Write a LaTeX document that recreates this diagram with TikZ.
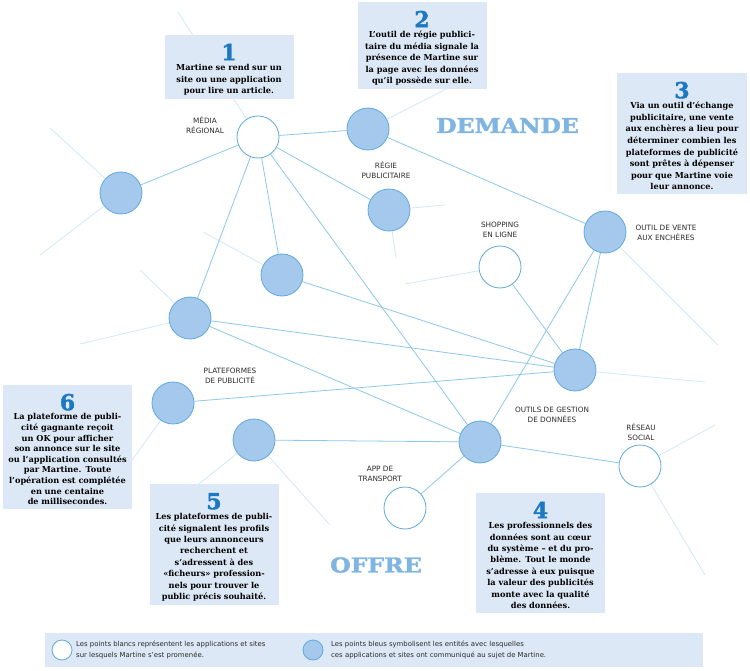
\documentclass[tikz,border=0pt]{standalone}
\usepackage{fontspec}
\setmainfont{DejaVu Serif}
\setsansfont{DejaVu Sans}
\newfontfamily\slabfont[FakeBold=1.6]{DejaVu Serif Bold}
\usetikzlibrary{backgrounds}
\definecolor{linkblue}{HTML}{8CC8EC}
\definecolor{dotblue}{HTML}{A5C9EC}
\definecolor{rimblue}{HTML}{5FA9DF}
\definecolor{boxblue}{HTML}{DCE8F5}
\definecolor{numblue}{HTML}{1B78C2}
\definecolor{wordblue}{HTML}{7FB5E0}
\definecolor{labelgrey}{HTML}{2B2B2B}
\newcommand\stepno[1]{\rule{0pt}{21pt}{\slabfont\fontsize{22}{22}\selectfont\color{numblue}#1}\\[-1pt]}

\tikzset{
  site/.style={circle, draw=rimblue, line width=.8pt, fill=white, minimum size=42pt, inner sep=0pt},
  entity/.style={site, fill=dotblue},
  link/.style={draw=linkblue, line width=.8pt},
  fade/.style={link, draw opacity=.4},
  tag/.style={font=\sffamily\fontsize{7.3}{10}\selectfont, text=labelgrey, align=center, inner sep=0pt},
  infobox/.style={fill=boxblue, anchor=north, text width=121pt, inner xsep=4pt, inner ysep=4pt, align=center},
  bigword/.style={font=\slabfont\fontsize{20.5}{20.5}\selectfont, text=wordblue, inner sep=0pt},
  keytext/.style={font=\sffamily\fontsize{6.9}{10.5}\selectfont, text=labelgrey, align=left, anchor=west, inner sep=0pt},
}

\begin{document}
\begin{tikzpicture}[x=1pt, y=-1pt]
\useasboundingbox (0,0) rectangle (750,671);
%% points
\node[site]   (media)     at (258,137) {};
\node[entity] (regieA)    at (368,129) {};
\node[entity] (westdot)   at (121,193) {};
\node[entity] (regieB)    at (389,210) {};
\node[entity] (middot)    at (282,275) {};
\node[entity] (platA)     at (190,318) {};
\node[site]   (shopping)  at (500,267) {};
\node[entity] (vente)     at (605,232) {};
\node[entity] (gestion)   at (575,370) {};
\node[entity] (platB)     at (173,403) {};
\node[entity] (platC)     at (254,440) {};
\node[entity] (hub)       at (480,442) {};
\node[site]   (reseau)    at (640,466) {};
\node[site]   (transport) at (405,508) {};
%% free ends
\coordinate (mediaNW)   at (178,12);
\coordinate (westNW)    at (50,128);
\coordinate (westSW)    at (40,255);
\coordinate (regieNE)   at (452,86);
\coordinate (regieBE)   at (445,205);
\coordinate (regieBS)   at (396,258);
\coordinate (midNW)     at (203,232);
\coordinate (shoppingW) at (405,284);
\coordinate (platANW)   at (140,270);
\coordinate (platAW)    at (80,344);
\coordinate (venteSE)   at (718,345);
\coordinate (gestionE)  at (705,382);
\coordinate (reseauNE)  at (715,425);
\coordinate (reseauSE)  at (705,575);
\coordinate (platCSW)   at (185,495);
\coordinate (platCSE)   at (330,525);
\coordinate (platBSW)   at (125,470);
%% names
\node[tag] (t-media)     at (205,125) {MÉDIA\\RÉGIONAL};
\node[tag] (t-regie)     at (386,170) {RÉGIE\\PUBLICITAIRE};
\node[tag] (t-shopping)  at (500,230) {SHOPPING\\EN LIGNE};
\node[tag] (t-vente)     at (666,233) {OUTIL DE VENTE\\AUX ENCHÈRES};
\node[tag] (t-plat)      at (230,376) {PLATEFORMES\\DE PUBLICITÉ};
\node[tag] (t-gestion)   at (552,415) {OUTILS DE GESTION\\DE DONNÉES};
\node[tag] (t-reseau)    at (641,432) {RÉSEAU\\SOCIAL};
\node[tag] (t-transport) at (380,474) {APP DE\\TRANSPORT};
\node[bigword] (demande) at (507.5,125.5) {\scalebox{1.15}[1]{DEMANDE}};
\node[bigword] (offre)   at (376,565) {\scalebox{1.15}[1]{OFFRE}};
%% steps
\node[infobox, font=\bfseries\fontsize{8.2}{11.5}\selectfont] (step1) at (229,35) {\stepno{1}
  Martine se rend sur un\\site ou une application\\pour lire un article.};
\node[infobox, font=\bfseries\fontsize{8.2}{11.5}\selectfont] (step2) at (422,2) {\stepno{2}
  L’outil de régie publici-\\taire du média signale la\\présence de Martine sur\\la page avec les données\\qu’il possède sur elle.};
\node[infobox, font=\bfseries\fontsize{8.2}{11.6}\selectfont, text width=122pt] (step3) at (682,73) {\stepno{3}
  Via un outil d’échange\\publicitaire, une vente\\aux enchères a lieu pour\\déterminer combien les\\plateformes de publicité\\sont prêtes à dépenser\\pour que Martine voie\\leur annonce.};
\node[infobox, font=\bfseries\fontsize{8.2}{10.6}\selectfont] (step6) at (67.5,385) {\stepno{6}
  La plateforme de publi-\\cité gagnante reçoit\\un OK pour afficher\\son annonce sur le site\\ou l’application consultés\\par Martine. Toute\\l’opération est complétée\\en une centaine\\de millisecondes.};
\node[infobox, font=\bfseries\fontsize{8.2}{11.4}\selectfont] (step5) at (214,484) {\stepno{5}
  Les plateformes de publi-\\cité signalent les profils\\que leurs annonceurs\\recherchent et\\s’adressent à des\\«ficheurs» profession-\\nels pour trouver le\\public précis souhaité.};
\node[infobox, font=\bfseries\fontsize{8.2}{11.4}\selectfont] (step4) at (540.5,493) {\stepno{4}
  Les professionnels des\\données sont au cœur\\du système – et du pro-\\blème. Tout le monde\\s’adresse à eux puisque\\la valeur des publicités\\monte avec la qualité\\des données.};
%% legend
\node[fill=boxblue, minimum width=658pt, minimum height=34pt, inner sep=0pt] (legend) at (374,650) {};
\node[site, minimum size=20pt] (keywhite) at (62,650) {};
\node[entity, minimum size=20pt] (keyblue) at (313,650) {};
\node[keytext] (keywhite-t) at (76,650)
  {Les points blancs représentent les applications et sites\\sur lesquels Martine s’est promenée.};
\node[keytext] (keyblue-t) at (331,650)
  {Les points bleus symbolisent les entités avec lesquelles\\ces applications et sites ont communiqué au sujet de Martine.};
%% links
\begin{scope}[on background layer]
\fill[white] (0,0) rectangle (750,671);
\draw[link] (media) -- (regieA);
\draw[link] (media) -- (westdot);
\draw[link] (media) -- (regieB);
\draw[link] (media) -- (middot);
\draw[link] (media) -- (platA);
\draw[link] (media) -- (hub);
\draw[link] (regieA) -- (vente);
\draw[link] (middot) -- (gestion);
\draw[link] (platA) -- (gestion);
\draw[link] (platA) -- (hub);
\draw[link] (platB) -- (gestion);
\draw[link] (platC) -- (hub);
\draw[link] (shopping) -- (gestion);
\draw[link] (vente) -- (gestion);
\draw[link] (vente) -- (hub);
\draw[link] (hub) -- (reseau);
\draw[link] (hub) -- (transport);
\draw[fade] (media) -- (mediaNW);
\draw[fade] (westdot) -- (westNW);
\draw[fade] (westdot) -- (westSW);
\draw[fade] (regieA) -- (regieNE);
\draw[fade] (regieB) -- (regieBE);
\draw[fade] (regieB) -- (regieBS);
\draw[fade] (middot) -- (midNW);
\draw[fade] (shopping) -- (shoppingW);
\draw[fade] (platA) -- (platANW);
\draw[fade] (platA) -- (platAW);
\draw[fade] (vente) -- (venteSE);
\draw[fade] (gestion) -- (gestionE);
\draw[fade] (reseau) -- (reseauNE);
\draw[fade] (reseau) -- (reseauSE);
\draw[fade] (platC) -- (platCSW);
\draw[fade] (platC) -- (platCSE);
\draw[fade] (platB) -- (platBSW);
\end{scope}
\end{tikzpicture}
\end{document}
